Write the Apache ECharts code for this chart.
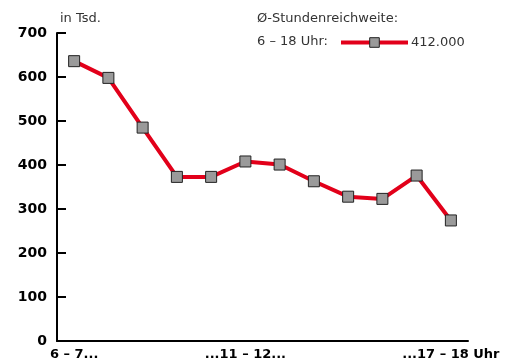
<!DOCTYPE html>
<html><head><meta charset="utf-8">
<script src="https://cdn.jsdelivr.net/npm/echarts@6/dist/echarts.min.js"></script>
<style>html,body{margin:0;padding:0;background:#fff}#c{width:511px;height:362px}</style>
</head><body><div id="c"></div>
<script>
var categories = ['6 – 7...', '7 – 8', '8 – 9', '9 – 10', '10 – 11', '...11 – 12...', '12 – 13', '13 – 14', '14 – 15', '15 – 16', '16 – 17', '...17 – 18 Uhr'];
var shownLabels = [0, 5, 11];
var values = [636, 598, 485, 373, 373, 408, 401, 363, 328, 323, 376, 274];
var yTicks = [0, 100, 200, 300, 400, 500, 600, 700];
var seriesName = '6 – 18 Uhr:';
var averageLabel = '412.000';
var unitLabel = 'in Tsd.';
var legendTitle = 'Ø-Stundenreichweite:';

var FONT = '"DejaVu Sans", sans-serif';
var chart = echarts.init(document.getElementById('c'), null, {renderer: 'canvas'});
chart.setOption({
  animation: false,
  textStyle: {fontFamily: FONT},
  grid: {left: 57, right: 43, top: 33, bottom: 21, containLabel: false},
  xAxis: {
    type: 'category',
    data: categories,
    boundaryGap: true,
    axisLine: {lineStyle: {color: '#000', width: 2}},
    axisTick: {inside: true, length: 7, lineStyle: {color: '#000', width: 1.5}, interval: 0},
    axisLabel: {
      interval: function (i) { return shownLabels.indexOf(i) >= 0; },
      color: '#000', fontWeight: 'bold', fontSize: 13, margin: 7, fontFamily: FONT
    }
  },
  yAxis: {
    type: 'value',
    min: yTicks[0], max: yTicks[yTicks.length - 1], interval: 100,
    axisLine: {show: true, lineStyle: {color: '#000', width: 2}},
    axisTick: {show: true, inside: true, length: 9, lineStyle: {color: '#000', width: 2}},
    splitLine: {show: false},
    axisLabel: {color: '#000', fontWeight: 'bold', fontSize: 14, margin: 10, fontFamily: FONT}
  },
  legend: {
    left: 339, top: 36, padding: 0,
    itemWidth: 67, itemHeight: 12,
    itemGap: 0,
    data: [seriesName],
    formatter: function () { return averageLabel; },
    lineStyle: {color: '#e2001a', width: 4},
    itemStyle: {color: '#9a9a9a', borderColor: '#222', borderWidth: 1},
    textStyle: {color: '#333', fontSize: 13, fontFamily: FONT, padding: [0, 0, 0, -2]}
  },
  graphic: [
    {type: 'text', left: 60, top: 12, style: {text: unitLabel, fill: '#333', font: '13px ' + FONT}},
    {type: 'text', left: 257, top: 12, style: {text: legendTitle, fill: '#333', font: '13px ' + FONT}},
    {type: 'text', left: 257, top: 35, style: {text: seriesName, fill: '#333', font: '13px ' + FONT}}
  ],
  series: [{
    name: seriesName,
    type: 'line',
    data: values,
    symbol: 'rect',
    symbolSize: 11,
    itemStyle: {color: '#9a9a9a', borderColor: '#222', borderWidth: 1},
    lineStyle: {color: '#e2001a', width: 4}
  }]
});
</script></body></html>
